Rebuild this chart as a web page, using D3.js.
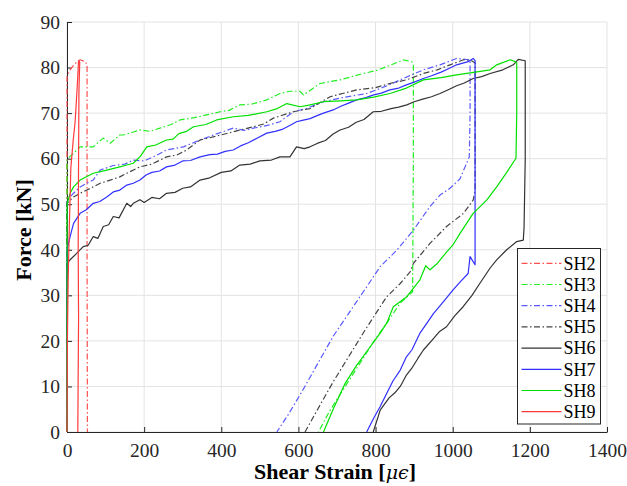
<!DOCTYPE html>
<html><head><meta charset="utf-8">
<script src="https://cdn.jsdelivr.net/npm/d3@7"></script>
<style>body{margin:0;background:#fff}svg{display:block}</style>
</head><body>
<svg id="c" width="627" height="486"></svg>
<script>
// ---------- data (strain [με], force [kN]) ----------
const seriesNames = ["SH2","SH3","SH4","SH5","SH6","SH7","SH8","SH9"];
const xTicks = [0,200,400,600,800,1000,1200,1400];
const yTicks = [0,10,20,30,40,50,60,70,80,90];

const SH2 = [[0,0],[0,78],[8,79.5],[21,80.9],[34,81.7],[47,81.3],[52,80.6],[52,40],[53,0]];
const SH3 = [[0,0],[0,59.7],[8,60.5],[17,61.2],[34,62.6],[68,62.6],[94,64.5],[112,63.4],[137,65.2],[146,65.2],[170,65.8],[189,66.3],[215,66],[241,66.7],[270,67.5],[293,68.5],[330,69],[362,69.6],[397,70.3],[420,70.6],[448,71.8],[480,72],[518,72.9],[552,74.3],[578,74.8],[604,74.8],[613,74],[656,76.5],[708,77.3],[768,78.7],[800,79.3],[829,80.2],[872,81.7],[894,81.3],[898,80.5],[898,60],[896,30.8],[864,28.3],[829,23.9],[800,20.5],[770,16.5],[740,12.5],[710,8.5],[680,4.5],[652,0]];
const SH4 = [[0,0],[0,50.9],[17,52.4],[34,53.8],[51,54.6],[68,55.3],[86,57.5],[120,58.5],[150,58.8],[172,59.7],[200,59.5],[224,60.4],[258,61.9],[302,62.6],[345,64.1],[390,65.5],[431,66.7],[460,66.2],[483,66.7],[520,67.3],[552,68.1],[587,70.3],[620,71],[665,72.5],[720,73.5],[777,74.3],[830,76],[872,77.6],[924,79.5],[967,80.6],[1010,82],[1045,81.7],[1045,70],[1043,60.4],[1032,58.2],[1019,55.6],[993,53.5],[967,52],[941,49.5],[898,44.3],[855,39.9],[812,36.3],[770,31],[730,26],[690,21],[650,15],[610,9],[575,4],[544,0]];
const SH5 = [[0,0],[0,50.2],[17,51.6],[34,52.4],[68,53.8],[86,54.6],[112,55.3],[137,56],[155,56.8],[189,58.2],[220,58.8],[258,60.4],[285,60.8],[310,61.9],[345,64.1],[390,65],[431,65.9],[483,67],[510,67.6],[535,68.9],[587,70.3],[630,71],[682,73.6],[751,75.1],[800,75.6],[837,76.5],[880,77.3],[924,78.7],[960,79.5],[993,80.6],[1028,81.7],[1049,81.5],[1058,81],[1058,60],[1058,53],[1053,50.9],[1028,48],[984,45.1],[941,41.4],[898,37],[890,35.2],[864,32.6],[829,29.7],[812,27.5],[770,22],[730,16.5],[690,11],[650,5],[617,0]];
const SH6 = [[0,0],[0,37],[8,37.8],[25,39.2],[42,40.7],[55,41],[68,42.9],[80,42.5],[94,45.1],[108,45.5],[120,47.3],[135,47],[155,50.2],[165,49.5],[172,50.2],[189,51],[200,50.4],[220,51.5],[240,51.2],[258,52.4],[280,52.6],[300,53.5],[320,53.8],[345,55.3],[370,55.8],[400,57],[425,57.3],[448,58.6],[475,58.8],[500,59.5],[530,59.7],[552,60.4],[578,60.4],[595,62.6],[615,62.2],[630,62.6],[650,63.4],[670,64],[690,65.4],[708,66.3],[730,66.9],[750,68],[770,68.6],[794,70.3],[815,70.4],[840,71],[860,71.3],[881,71.8],[900,72.5],[920,73],[945,73.6],[967,74.3],[990,75.2],[1010,76],[1030,76.6],[1053,77.6],[1075,78],[1097,78.7],[1130,79.5],[1157,80.6],[1170,81.8],[1188,81.5],[1188,60],[1185,45],[1183,42.1],[1166,41.8],[1140,40],[1114,37.8],[1097,36],[1071,32.7],[1050,30],[1027,27.5],[1005,25.5],[984,23.1],[965,22],[950,20.5],[924,18],[910,16.2],[894,14],[880,12.5],[864,10],[850,8.6],[835,7.5],[812,4.8],[794,0]];
const SH7 = [[0,0],[0,40],[8,42.9],[17,45.8],[34,48],[50,48.8],[68,50.2],[85,50.6],[103,51.6],[120,52.7],[137,53.1],[155,54.2],[172,54.6],[189,55.3],[205,56.4],[220,57],[240,57.3],[258,58.2],[280,58.6],[300,59.5],[320,59.6],[345,60.4],[370,60.9],[390,61],[410,61.6],[431,61.9],[450,62.8],[470,63.5],[495,64.6],[518,65.6],[540,66],[560,66.5],[580,67.4],[595,68.1],[610,68.4],[630,68.8],[650,69.5],[665,70],[690,70.7],[710,71.5],[730,72.2],[751,72.9],[775,73.4],[795,74],[815,74.4],[837,75.1],[860,75.5],[880,76.2],[900,76.8],[924,77.6],[945,78.2],[970,79],[990,79.8],[1010,80.6],[1040,81.3],[1053,82],[1058,81.5],[1058,60],[1058,36.7],[1045,38.5],[1040,34.8],[1020,33],[1001,31.2],[975,28.5],[950,26],[930,23.5],[915,21.7],[894,18],[880,16.5],[864,13.6],[845,11.2],[829,8.5],[812,5.6],[795,3],[777,0]];
const SH8 = [[0,0],[0,50],[8,52.4],[17,53.8],[34,55.3],[68,56.8],[103,57.5],[137,58.2],[155,58.6],[172,59],[190,60.5],[207,62.6],[230,63],[258,64.1],[275,64.3],[290,65.5],[310,66],[328,67],[360,67.5],[388,68.5],[431,69.2],[470,69.5],[518,70.3],[545,71],[570,72.1],[604,71.4],[630,71.8],[665,72.5],[710,72.7],[751,72.9],[795,73.5],[837,74.3],[880,75.5],[924,77.3],[970,77.8],[1010,78.4],[1050,78.9],[1097,79.5],[1114,80.6],[1149,81.7],[1162,81.3],[1166,81],[1166,70],[1164,60.1],[1140,57],[1114,53.8],[1088,50.9],[1053,48],[1019,43.6],[1000,41],[984,39.5],[960,37],[941,35.6],[930,36.5],[915,33.4],[881,29.7],[846,27.5],[829,23.9],[812,21.7],[780,18],[750,14.5],[720,10.5],[690,5],[665,0]];
const SH9 = [[0,0],[1,20],[3,33],[6,45],[10,58],[16,64],[21,68],[26,75],[30,81.5],[33,81.2],[31,75],[30,60],[29,40],[30,25],[28,0]];

const seriesData = [SH2,SH3,SH4,SH5,SH6,SH7,SH8,SH9];
const seriesColor = ["#ff5050","#22ee22","#5a5aff","#444444","#333333","#3030ff","#00e000","#ff3a3a"];
const seriesDash  = ["6,2.5,1.5,2.5","6,2.5,1.5,2.5","6,2.5,1.5,2.5","6,2.5,1.5,2.5",null,null,null,null];

// ---------- chart ----------
const svg = d3.select("#c");
const FONT = "Liberation Serif, Times New Roman, serif";
const x = d3.scaleLinear().domain([0,1400]).range([67,607]);
const y = d3.scaleLinear().domain([0,90]).range([432,22]);
const axisCol = "#262626";

// grid
svg.append("g").selectAll("line").data(xTicks).join("line")
  .attr("x1",d=>x(d)).attr("x2",d=>x(d)).attr("y1",y(0)).attr("y2",y(90))
  .attr("stroke","#e3e3e3").attr("stroke-width",1);
svg.append("g").selectAll("line").data(yTicks).join("line")
  .attr("y1",d=>y(d)).attr("y2",d=>y(d)).attr("x1",x(0)).attr("x2",x(1400))
  .attr("stroke","#e3e3e3").attr("stroke-width",1);

// axes
const xAxis = d3.axisBottom(x).tickValues(xTicks).tickFormat(d3.format("d")).tickSizeInner(-5).tickSizeOuter(0).tickPadding(12);
const gx = svg.append("g").attr("transform",`translate(0,${y(0)})`).call(xAxis);
const yAxis = d3.axisLeft(y).tickValues(yTicks).tickFormat(d3.format("d")).tickSizeInner(-5).tickSizeOuter(0).tickPadding(12);
const gy = svg.append("g").attr("transform",`translate(${x(0)},0)`).call(yAxis);
[gx,gy].forEach(g=>{
  g.attr("font-family",FONT).attr("font-size",19.5);
  g.select(".domain").attr("stroke",axisCol).attr("stroke-width",1);
  g.selectAll(".tick line").attr("stroke",axisCol);
  g.selectAll(".tick text").attr("fill",axisCol);
});
gy.selectAll(".tick text").attr("x",-7);
gx.selectAll(".tick text").attr("y",11);

// lines
const line = d3.line().x(d=>x(d[0])).y(d=>y(d[1]));
seriesData.forEach((dat,i)=>{
  svg.append("path").datum(dat).attr("d",line).attr("fill","none")
    .attr("stroke",seriesColor[i]).attr("stroke-width",1.2)
    .attr("stroke-dasharray",seriesDash[i]).attr("stroke-linejoin","round");
});

// axis titles
const xt = svg.append("text").attr("x",335).attr("y",479).attr("text-anchor","middle")
  .attr("font-family",FONT).attr("font-size",22).attr("font-weight","bold").attr("fill","#000");
xt.append("tspan").text("Shear Strain [");
xt.append("tspan").text("μϵ").attr("font-style","italic").attr("font-weight","normal").attr("font-family","DejaVu Serif, Liberation Serif, serif").attr("font-size",19);
xt.append("tspan").text("]");
svg.append("text").attr("transform","translate(31,230) rotate(-90)").attr("text-anchor","middle")
  .attr("font-family",FONT).attr("font-size",22).attr("font-weight","bold").attr("fill","#000")
  .text("Force [kN]");

// legend
const lg = svg.append("g");
lg.append("rect").attr("x",517.5).attr("y",248.5).attr("width",83).attr("height",175.5)
  .attr("fill","#fff").attr("stroke",axisCol).attr("stroke-width",1);
seriesNames.forEach((n,i)=>{
  const yy = 263.3 + i*21.2;
  lg.append("line").attr("x1",521.5).attr("x2",561.5).attr("y1",yy).attr("y2",yy)
    .attr("stroke",seriesColor[i]).attr("stroke-width",1.2).attr("stroke-dasharray",seriesDash[i]);
  lg.append("text").attr("x",563.5).attr("y",yy).attr("dy","0.35em")
    .attr("font-family",FONT).attr("font-size",18).attr("fill","#000").text(n);
});
</script>
</body></html>
